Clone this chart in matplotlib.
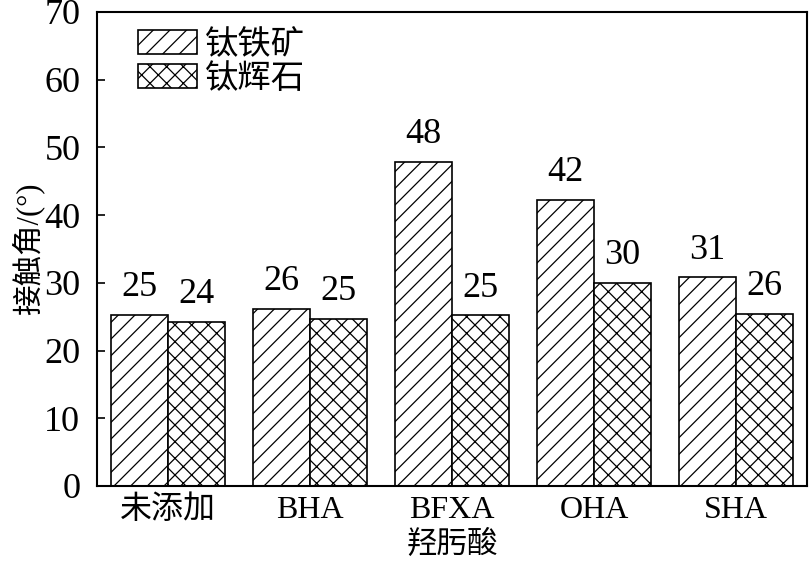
import matplotlib
matplotlib.use("Agg")
import matplotlib.pyplot as plt
import numpy as np

plt.rcParams['font.family'] = ['Liberation Serif', 'Noto Sans CJK SC']
plt.rcParams['hatch.linewidth'] = 0.9

categories = ['未添加', 'BHA', 'BFXA', 'OHA', 'SHA']
ilmenite = [25.3, 26.2, 47.9, 42.3, 30.8]
titanaugite = [24.2, 24.7, 25.2, 30.0, 25.4]
ilm_labels = ['25', '26', '48', '42', '31']
tit_labels = ['24', '25', '25', '30', '26']
series_names = ['钛铁矿', '钛辉石']
yticks = [0, 10, 20, 30, 40, 50, 60, 70]

fig = plt.figure(figsize=(8.09, 5.63), dpi=100)
ax = fig.add_axes([97/809, 1-486/563, (807-97)/809, (486-12)/563])

x = np.arange(len(categories))
w = 0.4
ax.bar(x - w/2, ilmenite, w, color='white', edgecolor='black', hatch='//', linewidth=1.2, label=series_names[0])
ax.bar(x + w/2, titanaugite, w, color='white', edgecolor='black', hatch='xx', linewidth=1.2, label=series_names[1])

for xi, v, t in zip(x - w/2, ilmenite, ilm_labels):
    ax.text(xi, v + 1.6, t, ha='center', va='bottom', fontsize=26)
for xi, v, t in zip(x + w/2, titanaugite, tit_labels):
    ax.text(xi, v + 1.6, t, ha='center', va='bottom', fontsize=26)

ax.set_xlim(-0.5, 4.5)
ax.set_ylim(0, 70)
ax.set_yticks(yticks)
ax.set_xticks(x)
ax.set_xticklabels(categories)
ax.tick_params(axis='y', direction='in', length=6, width=1.2, labelsize=26, pad=12)
ax.tick_params(axis='x', length=0, labelsize=23, pad=7)
for s in ax.spines.values():
    s.set_linewidth(1.5)

ax.set_ylabel('接触角/(°)', fontsize=22, labelpad=0)
ax.set_xlabel('羟肟酸', fontsize=22, labelpad=4)

leg = ax.legend(loc='upper left', bbox_to_anchor=(0.03, 1.005), frameon=False, fontsize=24,
                handlelength=1.75, handleheight=0.7, handletextpad=0.25, labelspacing=0.1, borderaxespad=0.2)

fig.savefig('out.png', dpi=100)
